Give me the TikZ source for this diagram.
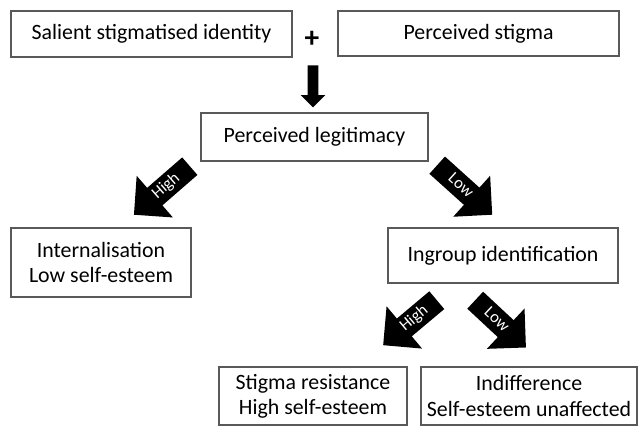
\documentclass[tikz,border=0pt]{standalone}
\usepackage{fontspec}
\setmainfont{Carlito}
\usetikzlibrary{shapes.arrows}

\begin{document}
\begin{tikzpicture}[x=0.75pt, y=-0.75pt,
		box/.style={draw=black!65, line width=0.8pt, fill=white, align=center, inner sep=2pt,
			font=\fontsize{16.4}{19}\selectfont},
		blockarrow/.style={single arrow, fill=black, draw=none, text=white, anchor=tail,
			single arrow head extend=12pt, single arrow tip angle=90,
			inner xsep=2pt, inner ysep=3pt, text height=8.5pt, text depth=2.5pt,
			font=\fontsize{12.5}{14}\selectfont}]
		\useasboundingbox (0, 0) rectangle (642, 426);
		
		% Top row
		\node[box, minimum width=210.75pt, minimum height=34.5pt] (salient) at (151.5, 34) {Salient stigmatised identity};
		\node[box, minimum width=210.75pt, minimum height=33.75pt] (stigma) at (478.5, 33.5) {Perceived stigma};
		\node[font=\fontsize{22}{24}\selectfont\bfseries] (plus) at (312, 39) {+};
		
		% Legitimacy
		\node[box, minimum width=170.25pt, minimum height=36pt] (legit) at (314.5, 137) {Perceived legitimacy};
		\node[single arrow, fill=black, draw=none, anchor=tail, rotate=-90, inner sep=3.75pt,
			minimum height=31.5pt, single arrow head extend=5.25pt, single arrow tip angle=90] (down) at (313, 65) {};
		
		% Second level
		\node[box, minimum width=135pt, minimum height=51.75pt] (intern) at (101, 262.5) {Internalisation\\Low self-esteem};
		\node[box, minimum width=172.5pt, minimum height=41.25pt] (ingroup) at (503, 255.5) {Ingroup identification};
		\node[blockarrow, rotate=41, shape border rotate=180, minimum height=55.5pt] (highA) at (190, 166) {High};
		\node[blockarrow, rotate=-42, minimum height=55.5pt] (lowA) at (437, 165) {Low};
		
		% Third level
		\node[box, minimum width=141pt, minimum height=43.5pt] (resist) at (313, 396) {Stigma resistance\\High self-esteem};
		\node[box, minimum width=162pt, minimum height=43.5pt] (indiff) at (529, 396) {Indifference\\Self-esteem unaffected};
		\node[blockarrow, rotate=40, shape border rotate=180, minimum height=52.5pt] (highB) at (437, 300) {High};
		\node[blockarrow, rotate=-43, minimum height=52pt] (lowB) at (475, 300) {Low};
	\end{tikzpicture}
\end{document}
